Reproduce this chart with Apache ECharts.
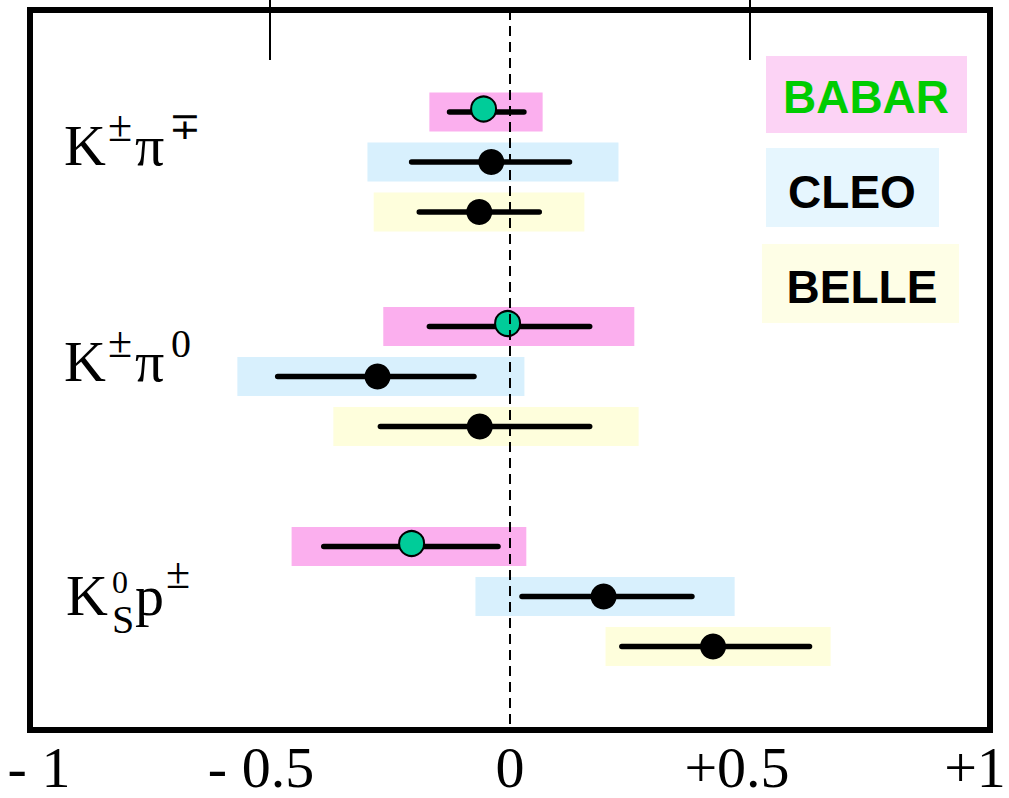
<!DOCTYPE html>
<html><head><meta charset="utf-8">
<script src="https://cdn.jsdelivr.net/npm/echarts@6/dist/echarts.min.js"></script>
<style>html,body{margin:0;padding:0;background:#fff;overflow:hidden}#c{width:1009px;height:798px}</style>
</head><body><div id="c"></div>
<script>
// ---- data ----
const reactions = ['K±π∓', 'K±π0', 'KS0p±'];
const experiments = ['BABAR', 'CLEO', 'BELLE'];
// central values per reaction
const babarValue = [-0.055, -0.005, -0.205];
const cleoValue  = [-0.039, -0.276, 0.195];
const belleValue = [-0.064, -0.063, 0.423];
// inner error bar (low / high)
const babarErrLo = [-0.126, -0.168, -0.388];
const babarErrHi = [0.029, 0.166, -0.025];
const cleoErrLo  = [-0.205, -0.484, 0.025];
const cleoErrHi  = [0.124, -0.075, 0.379];
const belleErrLo = [-0.189, -0.270, 0.233];
const belleErrHi = [0.061, 0.166, 0.624];
// shaded band (low / high)
const babarBandLo = [-0.168, -0.264, -0.455];
const babarBandHi = [0.068, 0.259, 0.034];
const cleoBandLo  = [-0.297, -0.568, -0.072];
const cleoBandHi  = [0.226, 0.030, 0.468];
const belleBandLo = [-0.284, -0.368, 0.199];
const belleBandHi = [0.155, 0.268, 0.668];
// axis ticks
const tickValues = [-1, -0.5, 0, 0.5, 1];
const tickLabels = ['- 1', '- 0.5', '0', '+0.5', '+1'];

// ---- layout / styles ----
const bandColors = ['#fbafee', '#d8f0fd', '#fefedc'];
const legendColors = ['#fcd3f5', '#e6f6fe', '#fefee6'];
const BAND_H = 39;
const GROUP_TOP = [2.04, 6.33, 10.73];
function rowY(g, r) { return GROUP_TOP[g] + r; }

const values = [babarValue, cleoValue, belleValue];
const errLo = [babarErrLo, cleoErrLo, belleErrLo];
const errHi = [babarErrHi, cleoErrHi, belleErrHi];
const bandLo = [babarBandLo, cleoBandLo, belleBandLo];
const bandHi = [babarBandHi, cleoBandHi, belleBandHi];

const bandData = [], errData = [], pointData = [[], [], []];
reactions.forEach((rx, g) => {
  experiments.forEach((ex, r) => {
    const y = rowY(g, r);
    bandData.push([bandLo[r][g], bandHi[r][g], y, r]);
    errData.push([errLo[r][g], errHi[r][g], y, r]);
    pointData[r].push([values[r][g], y]);
  });
});

const chart = echarts.init(document.getElementById('c'), null, {renderer: 'svg'});
const serif = 'Liberation Serif, Times New Roman, serif';
const sans = 'Liberation Sans, Arial, sans-serif';

function txt(text, x, baseline, fs) {
  return {
    type: 'text', x: x, y: baseline - 0.34 * fs, z: 100,
    style: {text: text, font: fs + 'px ' + serif, fill: '#000', textAlign: 'left', textVerticalAlign: 'middle', verticalAlign: 'middle'}
  };
}
function legendText(text, cx, baseline, color) {
  return {type: 'text', x: cx, y: baseline - 16, z: 100,
    style: {text: text, font: 'bold 46px ' + sans, fill: color, textAlign: 'center', textVerticalAlign: 'middle', verticalAlign: 'middle'}};
}

function rs(pad) { return {fontFamily: serif, fontSize: 58, lineHeight: 48, color: '#000', padding: pad}; }
const labelRich = {
  a: rs([0, 0, 0, 18]),
  b: rs([0, 18, 0, 0]),
  z: rs([0, 0, 0, 0]),
  c: rs([0, 26, 0, 0]),
  d: rs([0, 30, 0, 0])
};
const richKeys = ['a', 'b', 'z', 'c', 'd'];

const option = {
  animation: false,
  backgroundColor: '#fff',
  grid: {left: 30, right: 19, top: 10, bottom: 68, show: true, borderColor: '#000', borderWidth: 6,
    containLabel: false, outerBoundsMode: 'none'},
  xAxis: [{
    type: 'value', min: -1, max: 1, interval: 0.5, position: 'bottom',
    axisLine: {show: false},
    axisTick: {show: true, inside: true, length: 47, customValues: [-0.5, 0.5], lineStyle: {color: '#000', width: 2}},
    splitLine: {show: false},
    axisLabel: {
      margin: 13, fontFamily: serif, fontSize: 58, lineHeight: 48, color: '#000',
      formatter: function (v) {
        const i = tickValues.findIndex(t => Math.abs(t - v) < 1e-9);
        if (i < 0) return '';
        return '{' + richKeys[i] + '|' + tickLabels[i] + '}';
      },
      rich: labelRich
    }
  }, {
    type: 'value', min: -1, max: 1, interval: 0.5, position: 'top',
    axisLine: {show: false},
    axisTick: {show: true, inside: true, length: 50, customValues: [-0.5, 0.5], lineStyle: {color: '#000', width: 2}},
    splitLine: {show: false},
    axisLabel: {show: false}
  }],
  yAxis: {type: 'value', inverse: true, min: 0, max: 14.4, show: false},
  series: [
    {
      type: 'line', data: [], z: 1,
      markLine: {silent: true, symbol: ['none', 'none'], label: {show: false},
        lineStyle: {color: '#000', type: [10, 6], width: 2},
        data: [{xAxis: 0}]}
    },
    {
      type: 'custom', z: 2, data: bandData, encode: {x: [0, 1], y: 2},
      renderItem: function (params, api) {
        const p1 = api.coord([api.value(0), api.value(2)]);
        const p2 = api.coord([api.value(1), api.value(2)]);
        return {type: 'rect', shape: {x: p1[0], y: p1[1] - BAND_H / 2, width: p2[0] - p1[0], height: BAND_H},
          style: {fill: bandColors[api.value(3)]}};
      }
    },
    {
      type: 'custom', z: 3, data: errData, encode: {x: [0, 1], y: 2},
      renderItem: function (params, api) {
        const p1 = api.coord([api.value(0), api.value(2)]);
        const p2 = api.coord([api.value(1), api.value(2)]);
        return {type: 'line', shape: {x1: p1[0], y1: p1[1], x2: p2[0], y2: p2[1]},
          style: {stroke: '#000', lineWidth: 5.5, lineCap: 'round'}};
      }
    },
    {type: 'scatter', name: 'BABAR', z: 4, data: pointData[0], symbol: 'circle', symbolSize: 25, symbolOffset: [0, -3],
      itemStyle: {color: '#00cc99', borderColor: '#000', borderWidth: 2, opacity: 1}},
    {type: 'scatter', name: 'CLEO', z: 4, data: pointData[1], symbol: 'circle', symbolSize: 26,
      itemStyle: {color: '#000', opacity: 1}},
    {type: 'scatter', name: 'BELLE', z: 4, data: pointData[2], symbol: 'circle', symbolSize: 26,
      itemStyle: {color: '#000', opacity: 1}}
  ],
  graphic: [
    {type: 'rect', shape: {x: 766, y: 56, width: 201, height: 77}, style: {fill: legendColors[0]}, z: 90},
    {type: 'rect', shape: {x: 766, y: 148, width: 173, height: 79}, style: {fill: legendColors[1]}, z: 90},
    {type: 'rect', shape: {x: 762, y: 244, width: 197, height: 79}, style: {fill: legendColors[2]}, z: 90},
    legendText(experiments[0], 866, 112.7, '#00cc00'),
    legendText(experiments[1], 852, 207.7, '#000'),
    legendText(experiments[2], 862, 303.3, '#000'),
    // K±π∓
    txt('K', 64, 165, 58), txt('±', 108, 141, 44), txt('π', 135, 165, 58), txt('∓', 169, 139, 38),
    // K±π0
    txt('K', 64, 381, 58), txt('±', 108, 357, 44), txt('π', 135, 381, 58), txt('0', 171, 357, 40),
    // K0S p±
    txt('K', 66, 615, 58), txt('0', 112, 593, 32), txt('S', 112, 633, 40), txt('p', 135, 615, 58), txt('±', 166, 588, 44)
  ]
};
chart.setOption(option);
</script>
</body></html>
